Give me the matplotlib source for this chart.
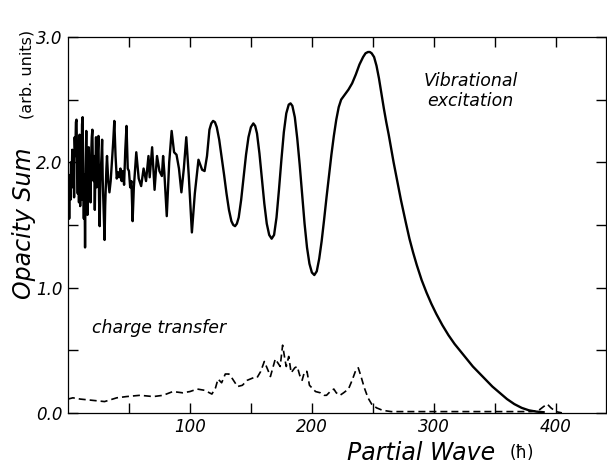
import numpy as np
import matplotlib.pyplot as plt

# vibrational excitation: opacity sum vs partial wave (hbar)
vib_l = [0.0, 0.5, 1.0, 1.5, 2.0, 2.5, 3.0, 3.5, 4.0, 4.5, 5.0, 5.5, 6.0, 6.5, 7.0, 7.5, 8.0, 8.5, 9.0, 9.5,
         10.0, 10.5, 11.0, 11.5, 12.0, 12.5, 13.0, 13.5, 14.0, 14.5, 15.0, 15.5, 16.0, 16.5, 17.0, 17.5, 18.0, 18.5, 19.0, 19.5,
         20.0, 20.5, 21.0, 21.5, 22.0, 22.5, 23.0, 23.5, 24.0, 24.5, 25.0, 25.5, 26.0, 26.5, 27.0, 27.5, 28.0, 28.5, 29.0, 29.5,
         30.0, 30.5, 31.0, 31.5, 32.0, 33, 34, 35, 36, 37, 38, 39,
         40, 41, 42, 43, 44, 45, 46, 47, 48, 49, 50, 51, 52, 53, 54, 56, 58, 60, 62, 64,
         66, 67, 69, 71, 73, 75, 77, 78, 79, 81, 83, 85, 87, 89, 91, 93, 95, 97, 99, 101.6,
         104, 107, 110, 112, 114, 116, 117.5, 119, 120.5, 122, 124, 126, 128, 130, 132, 134, 135.5, 137, 138.5, 140,
         142, 144, 146, 148, 150, 152, 153.5, 155, 157, 159, 161, 163, 165, 167, 169, 171, 173, 175, 177, 179,
         181, 182.5, 184, 186, 188, 190, 192, 194, 196, 198, 200, 202, 204, 206, 208, 210, 212, 214, 216, 218,
         220, 222, 224, 227, 230, 233, 236, 239, 242, 244, 246, 247.5, 249, 251, 253, 255, 257, 259, 261, 263,
         265, 267, 269, 271, 273, 275, 277, 280, 283, 286, 290, 294, 298, 302, 307, 312, 317, 322, 327, 332,
         337, 342, 348, 354, 360, 366, 372, 378, 384, 390]
vib_sum = [1.55, 1.90, 1.55, 1.88, 1.70, 2.00, 1.85, 2.10, 1.80, 2.05, 1.72, 2.20, 2.05, 2.32, 2.34, 2.00, 1.75, 2.15, 1.68, 2.22,
           1.65, 2.00, 1.70, 2.30, 2.36, 1.85, 1.55, 1.90, 1.32, 1.95, 2.25, 1.75, 1.58, 2.05, 2.12, 1.72, 1.95, 1.68, 2.05, 2.20,
           2.26, 1.90, 1.85, 2.05, 1.62, 1.95, 2.20, 1.80, 1.90, 2.10, 2.21, 1.70, 1.49, 1.85, 1.95, 2.05, 2.18, 1.85, 1.70, 1.55,
           1.38, 1.65, 1.80, 1.95, 2.05, 1.85, 1.76, 1.85, 2.00, 2.15, 2.33, 2.05,
           1.87, 1.92, 1.88, 1.95, 1.85, 1.93, 1.82, 2.10, 2.29, 1.95, 1.93, 1.80, 1.85, 1.53, 1.80, 2.08, 1.87, 1.81, 1.95, 1.85,
           2.05, 1.88, 2.12, 1.78, 2.05, 1.93, 1.89, 2.05, 1.92, 1.57, 2.00, 2.25, 2.08, 2.06, 1.95, 1.76, 1.95, 2.20, 1.90, 1.44,
           1.75, 2.02, 1.94, 1.93, 2.05, 2.26, 2.31, 2.33, 2.32, 2.28, 2.18, 2.04, 1.90, 1.75, 1.62, 1.53, 1.50, 1.49, 1.51, 1.56,
           1.70, 1.88, 2.06, 2.20, 2.28, 2.31, 2.29, 2.23, 2.07, 1.87, 1.67, 1.51, 1.42, 1.39, 1.42, 1.56, 1.78, 2.02, 2.24, 2.39,
           2.46, 2.47, 2.45, 2.36, 2.19, 1.98, 1.74, 1.51, 1.32, 1.19, 1.12, 1.10, 1.13, 1.23, 1.37, 1.54, 1.72, 1.89, 2.06, 2.21,
           2.34, 2.44, 2.50, 2.54, 2.58, 2.63, 2.70, 2.78, 2.84, 2.87, 2.88, 2.88, 2.87, 2.84, 2.77, 2.67, 2.55, 2.43, 2.32, 2.22,
           2.11, 2.00, 1.90, 1.80, 1.70, 1.61, 1.52, 1.39, 1.28, 1.18, 1.06, 0.96, 0.87, 0.79, 0.70, 0.62, 0.55, 0.49, 0.43, 0.37,
           0.32, 0.27, 0.21, 0.16, 0.11, 0.07, 0.04, 0.02, 0.01, 0.005]

# charge transfer
ct_l = [0, 4, 10, 20, 30, 40, 48, 59, 70, 78, 86, 94, 100, 106, 112, 118, 121, 123, 126, 129,
        132, 135, 139, 143, 147, 152, 155, 158, 161, 164, 166, 168, 170, 172, 174, 176, 178, 179, 181, 183,
        186, 188, 190, 192, 194, 196, 198, 200, 203, 207, 210, 212, 215, 218, 220, 223, 226, 230, 233, 236,
        238, 240, 243, 246, 249, 253, 258, 265, 300, 340, 380, 386, 390, 393, 396, 400, 405]
ct_sum = [0.11, 0.12, 0.11, 0.10, 0.09, 0.12, 0.13, 0.14, 0.13, 0.14, 0.17, 0.16, 0.17, 0.19, 0.18, 0.15, 0.20, 0.27, 0.24, 0.31,
          0.31, 0.27, 0.21, 0.22, 0.26, 0.28, 0.28, 0.33, 0.41, 0.34, 0.29, 0.36, 0.43, 0.40, 0.37, 0.54, 0.42, 0.37, 0.45, 0.32,
          0.36, 0.37, 0.30, 0.26, 0.33, 0.33, 0.22, 0.20, 0.17, 0.16, 0.14, 0.14, 0.17, 0.19, 0.16, 0.14, 0.16, 0.19, 0.26, 0.34,
          0.36, 0.30, 0.20, 0.12, 0.07, 0.04, 0.02, 0.01, 0.01, 0.01, 0.01, 0.02, 0.05, 0.07, 0.04, 0.01, 0.0]

fig = plt.figure(figsize=(6.07, 4.74), dpi=100)
ax = fig.add_axes([0.112, 0.129, 0.886, 0.793])

ax.plot(vib_l, vib_sum, color='black', lw=1.7, solid_joinstyle='round')
ct_line, = ax.plot(ct_l, ct_sum, color='black', lw=1.2)
ct_line.set_dashes([4.2, 2.4])

ax.set_xlim(0, 441)
ax.set_ylim(0, 3.0)

xt = np.arange(50, 441, 50)
ax.set_xticks(xt)
ax.set_xticklabels([str(v) if v % 100 == 0 else '' for v in xt])
yt = np.arange(0, 3.01, 0.5)
ax.set_yticks(yt)
ax.set_yticklabels(['%.1f' % v if v % 1 == 0 else '' for v in yt])

ax.tick_params(direction='in', length=7, width=1, top=True, right=True,
               labelsize=12, pad=4)
for lab in ax.get_xticklabels() + ax.get_yticklabels():
    lab.set_fontstyle('italic')
for s in ax.spines.values():
    s.set_linewidth(0.9)

ax.text(330, 2.57, 'Vibrational\nexcitation', fontsize=12.5, style='italic',
        ha='center', va='center', linespacing=1.1)
ax.text(20, 0.68, 'charge transfer', fontsize=12.5, style='italic',
        ha='left', va='center')

# axis titles
fig.text(0.815, 0.018, 'Partial Wave', fontsize=17, style='italic', ha='right', va='bottom')
fig.text(0.84, 0.025, '(ħ)', fontsize=12, ha='left', va='bottom')
fig.text(0.02, 0.37, 'Opacity Sum', fontsize=17, style='italic', rotation=90,
         ha='left', va='bottom')
fig.text(0.032, 0.748, '(arb. units)', fontsize=11.5, rotation=90,
         ha='left', va='bottom')

fig.savefig('out.png', dpi=100)
